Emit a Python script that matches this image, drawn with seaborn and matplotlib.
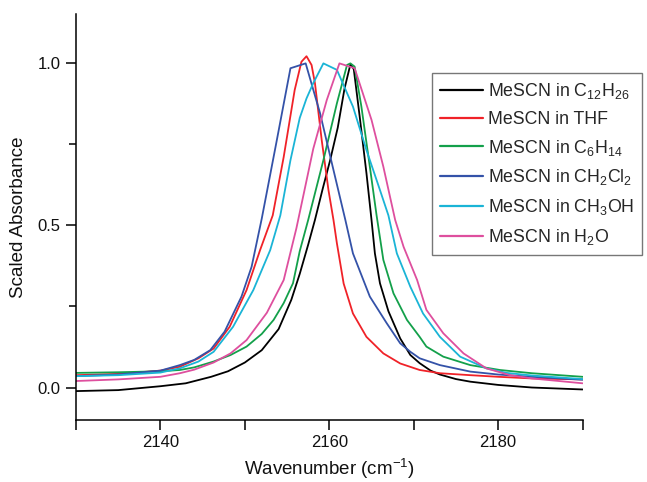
import numpy as np
import pandas as pd
import seaborn as sns
import matplotlib.pyplot as plt
from matplotlib.ticker import MultipleLocator, FuncFormatter

# spectra (wavenumber in cm-1, scaled absorbance)
wn_c12h26 = [2130, 2135, 2140, 2143, 2146, 2148, 2150, 2152, 2154, 2155.5, 2156.5, 2157.5, 2158.3,
             2159.2, 2160.1, 2161, 2161.8, 2162.5, 2162.9, 2163.6, 2164.4, 2165, 2165.4, 2166, 2167,
             2168.4, 2169.6, 2170.7, 2172, 2173.1, 2175, 2176.7, 2180, 2184, 2190]
abs_c12h26 = [-0.011, -0.008, 0.004, 0.013, 0.033, 0.05, 0.077, 0.115, 0.18, 0.27, 0.35, 0.44, 0.516,
              0.61, 0.70, 0.80, 0.92, 0.995, 0.98, 0.834, 0.66, 0.516, 0.413, 0.321, 0.235,
              0.151, 0.10, 0.075, 0.052, 0.04, 0.026, 0.018, 0.008, 0.0, -0.006]

wn_thf = [2130, 2135, 2140, 2142.3, 2144.5, 2146.3, 2148.2, 2150.2, 2151.8, 2153.3, 2154.6, 2155.9,
          2156.7, 2157.3, 2157.9, 2158.3, 2159.1, 2159.9, 2160.5, 2160.9, 2161.7, 2162.8, 2164.4,
          2166.4, 2168.4, 2170.7, 2173.1, 2176.7, 2180, 2184, 2190]
abs_thf = [0.038, 0.042, 0.052, 0.064, 0.09, 0.12, 0.187, 0.30, 0.423, 0.53, 0.71, 0.916,
           1.003, 1.02, 0.993, 0.937, 0.762, 0.608, 0.515, 0.444, 0.32, 0.228, 0.156,
           0.105, 0.074, 0.054, 0.044, 0.038, 0.033, 0.028, 0.025]

wn_c6h14 = [2130, 2135, 2140, 2142.3, 2144, 2146.3, 2148.3, 2150.2, 2152, 2153.4, 2154.6, 2155.7,
            2156.5, 2157.5, 2159.3, 2160.9, 2162.1, 2162.5, 2163, 2163.8, 2164.8, 2165.6, 2166.4,
            2167.6, 2169.2, 2170.7, 2171.5, 2173.5, 2176.7, 2180.2, 2184, 2190]
abs_c6h14 = [0.045, 0.047, 0.05, 0.054, 0.062, 0.08, 0.1, 0.126, 0.165, 0.208, 0.26, 0.321,
             0.42, 0.516, 0.70, 0.875, 0.993, 0.998, 0.988, 0.865, 0.68, 0.53, 0.393,
             0.29, 0.208, 0.156, 0.126, 0.095, 0.069, 0.054, 0.044, 0.033]

wn_ch2cl2 = [2130, 2135, 2140, 2142.3, 2144, 2145.9, 2147.6, 2149.6, 2150.8, 2152, 2153.7, 2155.4,
             2157.2, 2158.9, 2160.4, 2161.9, 2162.8, 2164.8, 2166.8, 2168.4, 2169.6, 2170.7,
             2173.1, 2176.7, 2180, 2184, 2190]
abs_ch2cl2 = [0.035, 0.04, 0.052, 0.069, 0.085, 0.115, 0.172, 0.28, 0.372, 0.52, 0.75, 0.983,
              0.998, 0.845, 0.68, 0.516, 0.413, 0.28, 0.198, 0.136, 0.11, 0.09,
              0.069, 0.049, 0.04, 0.033, 0.024]

wn_ch3oh = [2130, 2135, 2140, 2142.3, 2144.5, 2146.3, 2148.6, 2151, 2153, 2154.2, 2155.4, 2156.5,
            2157.3, 2158.1, 2159.3, 2160.9, 2162.8, 2164.4, 2166, 2167, 2168, 2169.6, 2171.1,
            2173.1, 2175.5, 2178.6, 2181, 2184, 2190]
abs_ch3oh = [0.035, 0.038, 0.046, 0.059, 0.08, 0.11, 0.187, 0.30, 0.423, 0.53, 0.70, 0.83,
             0.89, 0.937, 0.998, 0.978, 0.865, 0.731, 0.608, 0.53, 0.413, 0.31, 0.228,
             0.156, 0.095, 0.059, 0.045, 0.037, 0.026]

wn_h2o = [2130, 2135, 2140, 2142.3, 2144, 2146.3, 2148.3, 2150.2, 2152.6, 2154.6, 2156.1, 2157,
          2158.1, 2159.7, 2161.2, 2163, 2165, 2166.4, 2167.8, 2168.8, 2170.4, 2171.5, 2173.5,
          2175.9, 2178.6, 2181.4, 2184, 2190]
abs_h2o = [0.02, 0.025, 0.033, 0.044, 0.055, 0.077, 0.105, 0.146, 0.23, 0.331, 0.49, 0.60,
           0.735, 0.885, 0.998, 0.983, 0.824, 0.68, 0.516, 0.433, 0.331, 0.239, 0.167,
           0.105, 0.059, 0.038, 0.028, 0.013]

labels = ["MeSCN in C$_{12}$H$_{26}$", "MeSCN in THF", "MeSCN in C$_{6}$H$_{14}$",
          "MeSCN in CH$_{2}$Cl$_{2}$", "MeSCN in CH$_{3}$OH", "MeSCN in H$_{2}$O"]
colors = ["#000000", "#f02228", "#13a04a", "#3452a8", "#1ab4d6", "#de4f9e"]

series = [(wn_c12h26, abs_c12h26), (wn_thf, abs_thf), (wn_c6h14, abs_c6h14),
          (wn_ch2cl2, abs_ch2cl2), (wn_ch3oh, abs_ch3oh), (wn_h2o, abs_h2o)]

records = []
for label, (wn, ab) in zip(labels, series):
    for w, a in zip(wn, ab):
        records.append({'wavenumber': w, 'absorbance': a, 'solvent': label})
df = pd.DataFrame.from_records(records)

sns.set_theme(style="ticks")
plt.rcParams['font.family'] = ['Liberation Sans', 'DejaVu Sans']
plt.rcParams['mathtext.default'] = 'regular'

fig = plt.figure(figsize=(6.47, 4.82), dpi=100)
ax = fig.add_axes([76 / 647, 62 / 482, (582.6 - 76) / 647, (420 - 14) / 482])

sns.lineplot(data=df, x='wavenumber', y='absorbance', hue='solvent',
             palette=dict(zip(labels, colors)), hue_order=labels,
             linewidth=1.3, legend=False, ax=ax)

ax.set_xlim(2130, 2190)
ax.set_ylim(-0.1, 1.15)
ax.xaxis.set_major_locator(MultipleLocator(10))
ax.xaxis.set_major_formatter(FuncFormatter(lambda v, p: f"{int(round(v))}" if round(v) % 20 == 0 and 2130 < v < 2190 else ""))
ax.yaxis.set_major_locator(MultipleLocator(0.5))
ax.yaxis.set_minor_locator(MultipleLocator(0.25))
ax.tick_params(axis='both', which='both', direction='out', length=7, width=1.1,
               labelsize=12, color='black', labelcolor='#111111', pad=4)
ax.tick_params(axis='y', which='minor', length=5)
for side in ['top', 'right']:
    ax.spines[side].set_visible(False)
for side in ['left', 'bottom']:
    ax.spines[side].set_linewidth(1.1)
    ax.spines[side].set_color('black')

ax.set_xlabel('Wavenumber (cm$^{-1}$)', fontsize=13.5, labelpad=5, color='#111111')
ax.set_ylabel('Scaled Absorbance', fontsize=13.5, labelpad=8, color='#111111')

leg = ax.legend(handles=ax.get_lines()[:len(labels)], labels=labels, loc='upper left',
                bbox_to_anchor=(432 / 647, 1 - 73 / 482), bbox_transform=fig.transFigure,
                borderaxespad=0, fontsize=12.8, frameon=True, fancybox=False,
                handlelength=2.4, handletextpad=0.3, labelspacing=0.55, borderpad=0.45)
leg.get_frame().set_edgecolor('#555555')
leg.get_frame().set_linewidth(1.0)
for line in leg.get_lines():
    line.set_linewidth(1.6)

plt.savefig('out.png', dpi=100)
